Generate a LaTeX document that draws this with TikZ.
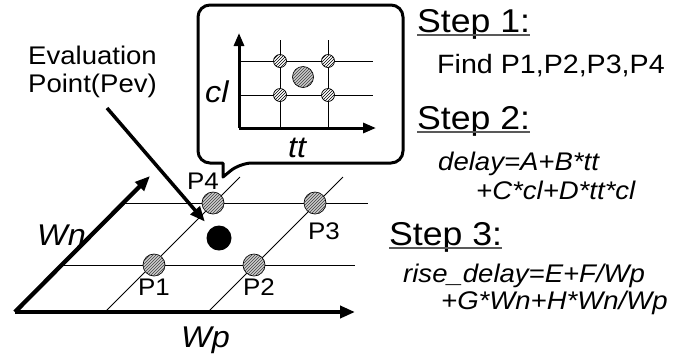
\documentclass[tikz,border=0pt]{standalone}
\usepackage{fontspec}
\setmainfont[FakeStretch=1.08]{Liberation Sans}
\usetikzlibrary{arrows.meta, positioning, calc, patterns}
\newcommand{\tsize}[1]{\fontsize{#1}{#1}\selectfont}

\begin{document}
\begin{tikzpicture}[x=1pt, y=-1pt,
        axis/.style={line width=4.3pt, -{Triangle[length=15pt, width=12pt]}},
        subaxis/.style={line width=3pt, -{Triangle[length=13pt, width=10pt]}},
        gridline/.style={line width=0.9pt},
        sample/.style={circle, draw, line width=0.7pt, minimum size=22pt, inner sep=0pt, fill=gray!40, postaction={pattern=north east lines, pattern color=gray!50!black}},
        subsample/.style={circle, draw, line width=0.7pt, minimum size=13pt, inner sep=0pt, fill=white, postaction={pattern=north east lines}},
        plabel/.style={inner sep=0pt, font=\tsize{24}},
        txt/.style={inner sep=0pt, anchor=base west, font=\tsize{26.5}},
        steptxt/.style={inner sep=0pt, anchor=base west, font=\tsize{33}},
        formula/.style={inner sep=0pt, anchor=base west, font=\tsize{25.5}\itshape},
        axlabel/.style={inner sep=0pt, anchor=base west, font=\tsize{30}\itshape},
        uline/.style={line width=1.5pt, gray!70!black},
        pointer/.style={line width=3.5pt, -{Triangle[length=15pt, width=12pt]}, shorten >=9pt}]

        \useasboundingbox (0,0) rectangle (684,360);

        % Plano Wp-Wn
        \draw[gridline] (64,265) -- (355,265);
        \draw[gridline] (125,203) -- (368,203);
        \draw[gridline] (105,312) -- (240,177);
        \draw[gridline] (208,312) -- (343,177);
        \coordinate (o) at (15,312);
        \draw[axis] (o) -- (355,312);
        \draw[axis] (o) -- (150,176);

        % Puntos de muestra
        \node[sample] (p1) at (154,265) {};
        \node[sample] (p2) at (254,265) {};
        \node[sample] (p3) at (315,203) {};
        \node[sample] (p4) at (213,203) {};
        \node[circle, fill=black, minimum size=25pt, inner sep=0pt] (pev) at (219,238) {};

        \node[plabel, below=2pt of p1] (l1) {P1};
        \node[plabel, below=2pt of p2, xshift=5pt] (l2) {P2};
        \node[plabel, below=8pt of p3, xshift=9pt] (l3) {P3};
        \node[plabel, above=2pt of p4, xshift=-10pt] (l4) {P4};
        \node[axlabel] (wn) at (37,245) {Wn};
        \node[axlabel] (wp) at (181,347) {Wp};

        % Punto de evaluacion
        \node[inner sep=0pt, anchor=north west, align=left, font=\fontsize{25.5}{28}\selectfont] (evtext) at (28,46) {Evaluation\\Point(Pev)};
        \coordinate (evtail) at (107,108);
        \draw[pointer] (evtail) -- (pev);

        % Globo tt-cl
        \draw[line width=3pt, fill=white, line join=round] (300,5) [rounded corners=12pt] -- (403,5) -- (403,163) -- (240,163) [sharp corners] -- (223,177) -- (223,163) -- (212,163) [rounded corners=12pt] -- (198,163) -- (198,5) -- cycle;
        \draw[gridline] (239,61) -- (373,61);
        \draw[gridline] (239,95) -- (373,95);
        \draw[gridline] (280,40) -- (280,128);
        \draw[gridline] (328,40) -- (328,128);
        \coordinate (o2) at (239,128);
        \draw[subaxis] (o2) -- (239,33);
        \draw[subaxis] (o2) -- (376,128);
        \node[subsample] (q1) at (280,95) {};
        \node[subsample] (q2) at (328,95) {};
        \node[subsample] (q3) at (328,61) {};
        \node[subsample] (q4) at (280,61) {};
        \node[sample, minimum size=21pt] (qev) at (303,77) {};
        \node[axlabel] (cl) at (205,102) {cl};
        \node[axlabel] (tt) at (288,157) {tt};

        % Pasos
        \node[steptxt] (s1) at (417,32) {Step 1:};
        \node[txt] (find) at (437,73) {Find P1,P2,P3,P4};
        \node[steptxt] (s2) at (417,129) {Step 2:};
        \node[formula] (f2a) at (438,170) {delay=A+B*tt};
        \node[formula] (f2b) at (476,199) {+C*cl+D*tt*cl};
        \node[steptxt] (s3) at (389,245) {Step 3:};
        \node[formula] (f3a) at (403,282) {rise\_delay=E+F/Wp};
        \node[formula] (f3b) at (441,309) {+G*Wn+H*Wn/Wp};
        \draw[uline] ($(s1.base west)+(0,3)$) -- ($(s1.base east)+(0,3)$);
        \draw[uline] ($(s2.base west)+(0,3)$) -- ($(s2.base east)+(0,3)$);
        \draw[uline] ($(s3.base west)+(0,3)$) -- ($(s3.base east)+(0,3)$);
    \end{tikzpicture}
\end{document}
